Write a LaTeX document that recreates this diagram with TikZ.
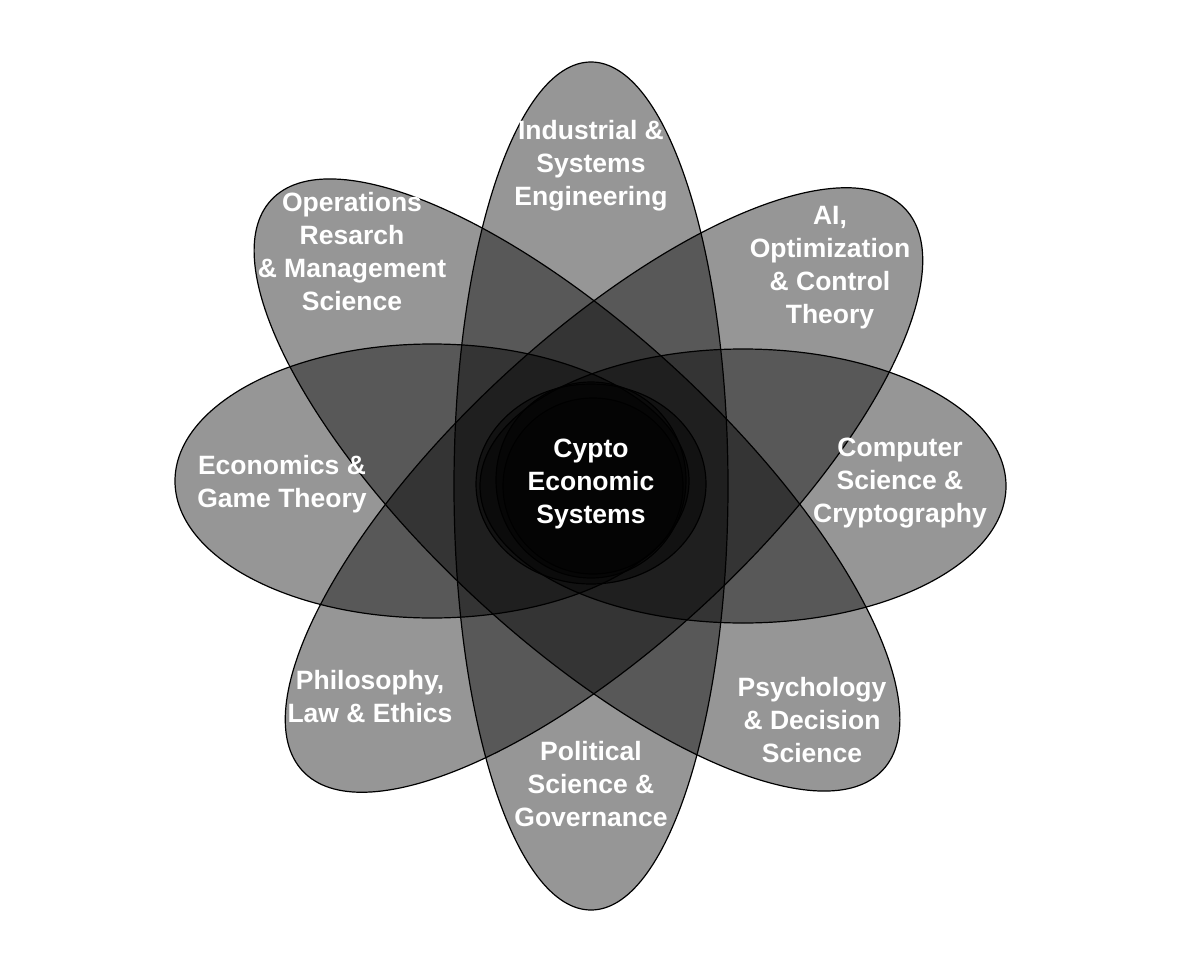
\documentclass[tikz,border=0pt]{standalone}
\usepackage{fontspec}
\setmainfont{Liberation Sans}
\begin{document}
\begin{tikzpicture}[x=1pt,y=-1pt,
  petal/.style={draw=black,line width=1.2pt,fill=black,fill opacity=0.41},
  lab/.style={text=white,font=\bfseries\fontsize{26.5}{33}\selectfont,align=center}]
\useasboundingbox (0,0) rectangle (1178,966);
\draw[petal] (591,486) ellipse [x radius=137,y radius=424];
\draw[petal] (432,481) ellipse [x radius=257,y radius=137];
\draw[petal] (743,486) ellipse [x radius=263,y radius=137];
\draw[petal,rotate around={-43:(577,485)}] (577,485) ellipse [x radius=418,y radius=152];
\draw[petal,rotate around={43:(604,490)}] (604,490) ellipse [x radius=412,y radius=152];
\draw[petal] (591,484) ellipse [x radius=115,y radius=100];
\draw[petal] (591,480) ellipse [x radius=95,y radius=98];
\draw[petal] (593,486) ellipse [x radius=90,y radius=88];
\node[lab] (ind) at (591,166) {Industrial \&\\Systems\\Engineering};
\node[lab] (ops) at (352,252) {Operations\\Resarch\\\& Management\\Science};
\node[lab] (ai) at (830,268) {AI,\\Optimization\\\& Control\\Theory};
\node[lab] (eco) at (282,484) {Economics \&\\Game Theory};
\node[lab] (cen) at (591,484) {Cypto\\Economic\\Systems};
\node[lab] (cs) at (900,483) {Computer\\Science \&\\Cryptography};
\node[lab] (phi) at (370,697) {Philosophy,\\Law \& Ethics};
\node[lab] (psy) at (812,720) {Psychology\\\& Decision\\Science};
\node[lab] (pol) at (591,784) {Political\\Science \&\\Governance};
\end{tikzpicture}
\end{document}
